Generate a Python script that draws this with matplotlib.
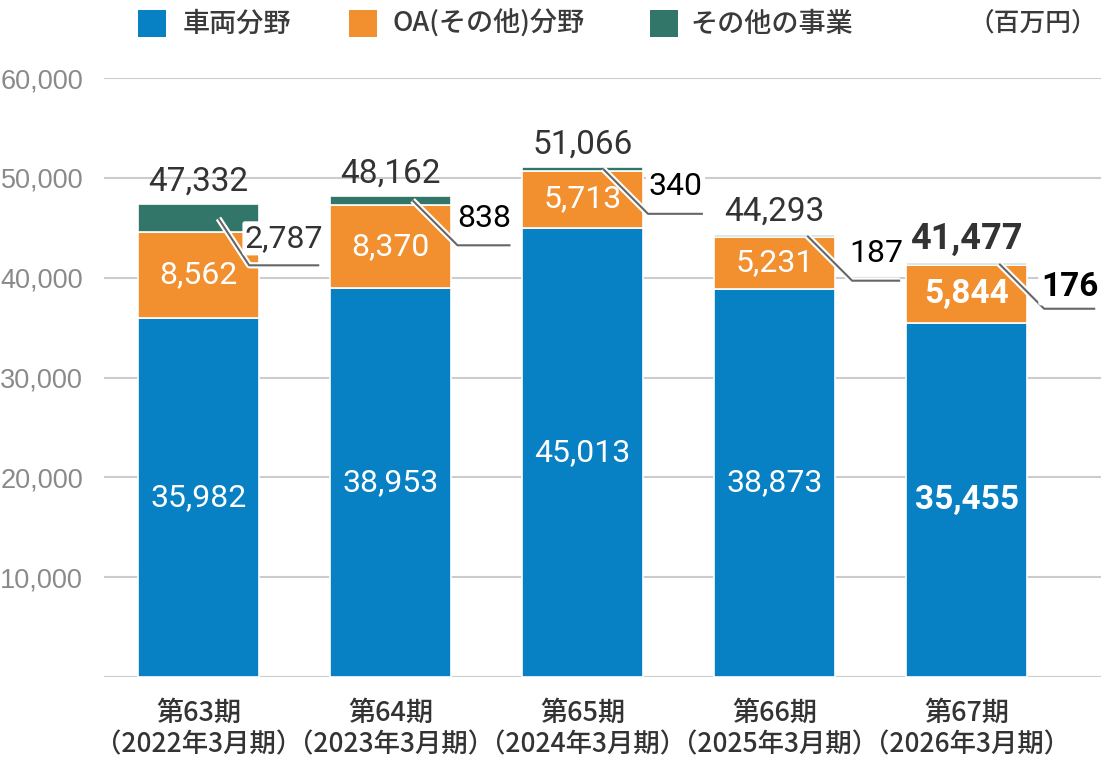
import matplotlib
matplotlib.use('Agg')
import matplotlib.pyplot as plt
from matplotlib.patches import Rectangle
import matplotlib.patheffects as pe
import matplotlib.transforms as mtransforms

plt.rcParams['font.family'] = ['Noto Sans CJK JP', 'DejaVu Sans']

# ---------------- data ----------------
periods = ['第63期', '第64期', '第65期', '第66期', '第67期']
fiscal_years = ['（2022年3月期）', '（2023年3月期）', '（2024年3月期）',
                '（2025年3月期）', '（2026年3月期）']
series_names = ['車両分野', 'OA(その他)分野', 'その他の事業']
vehicle = [35982, 38953, 45013, 38873, 35455]
oa = [8562, 8370, 5713, 5231, 5844]
other = [2787, 838, 340, 187, 176]
totals = [47332, 48162, 51066, 44293, 41477]
y_ticks = [0, 10000, 20000, 30000, 40000, 50000, 60000]
unit_label = '（百万円）'

# ---------------- styles / layout ----------------
colors = ['#0780C4', '#F28F2E', '#32766A']
emphasis = [False, False, False, False, True]
# leader line geometry (x offsets in bar units, y drop in value units)
lead_start = [0.104, 0.115, 0.107, 0.17, 0.17]
lead_dx = [0.16, 0.234, 0.234, 0.234, 0.234]
lead_len = [0.365, 0.276, 0.286, 0.25, 0.266]
lead_drop = [4700, 4500, 4500, 4500, 4500]
lead_text_up = [2700, 2700, 2700, 2700, 2200]
lead_text_color = ['#333333', '#000000', '#000000', '#000000', '#000000']

W, H = 1101, 760
fig = plt.figure(figsize=(W / 100, H / 100), dpi=100)
ax = fig.add_axes([104 / W, 83 / H, 997 / W, 599 / H])

x = list(range(len(periods)))
bw = 0.63
bottoms2 = [v + o for v, o in zip(vehicle, oa)]
ax.bar(x, vehicle, width=bw, color=colors[0], edgecolor='white', linewidth=1.2, zorder=3)
ax.bar(x, oa, width=bw, bottom=vehicle, color=colors[1], edgecolor='white', linewidth=1.2, zorder=3)
ax.bar(x, other, width=bw, bottom=bottoms2, color=colors[2], edgecolor='white', linewidth=1.2, zorder=3)

ax.set_xlim(-0.492, 4.70)
ax.set_ylim(0, 60000)
ax.set_yticks(y_ticks)
ax.set_yticklabels(['' if t == 0 else f'{t:,}' for t in y_ticks],
                   fontfamily='Liberation Sans', fontsize=19.5, color='#8a8a8a')
ax.tick_params(axis='y', length=0, pad=15)
ax.set_xticks([])
ax.yaxis.grid(True, color='#cccccc', linewidth=1.5, zorder=0)
ax.set_axisbelow(True)
for s in ax.spines.values():
    s.set_visible(False)

num_font = 'Roboto'
for i in x:
    fw = 'bold' if emphasis[i] else 'normal'
    fs = 24 if emphasis[i] else 23
    # inside labels
    ax.text(i, vehicle[i] / 2, f'{vehicle[i]:,}', ha='center', va='center',
            color='white', fontsize=fs, fontfamily=num_font, fontweight=fw, zorder=5)
    ax.text(i, vehicle[i] + oa[i] / 2, f'{oa[i]:,}', ha='center', va='center',
            color='white', fontsize=fs, fontfamily=num_font, fontweight=fw, zorder=5)
    # total
    ax.annotate(f'{totals[i]:,}', (i, bottoms2[i] + other[i]), xytext=(0, 10),
                textcoords='offset points', ha='center', va='baseline',
                color='#333333', fontsize=(26 if emphasis[i] else 24),
                fontfamily=num_font, fontweight=fw, zorder=6)
    # leader line for "other"
    sx = i + lead_start[i]
    sy = bottoms2[i] + other[i] / 2
    cx = sx + lead_dx[i]
    cy = sy - lead_drop[i]
    ex = cx + lead_len[i]
    ax.plot([sx, cx, ex], [sy, cy, cy], color='#666666', linewidth=1.5, zorder=7,
            solid_capstyle='butt',
            path_effects=[pe.Stroke(linewidth=4.5, foreground='white'), pe.Normal()])
    ax.text((cx + ex) / 2, cy + lead_text_up[i], f'{other[i]:,}', ha='center', va='center',
            color=lead_text_color[i], fontsize=(24 if emphasis[i] else 23),
            fontfamily=num_font, fontweight=fw, zorder=8,
            bbox=dict(boxstyle='round,pad=0.08', facecolor='white', edgecolor='none'))

# x category labels
trans = mtransforms.blended_transform_factory(ax.transData, fig.transFigure)
for i in x:
    ax.text(i, 1 - 713 / H, periods[i], transform=trans, ha='center', va='center',
            fontsize=19.5, color='#333333', fontweight='medium')
    ax.text(i, 1 - 745 / H, fiscal_years[i], transform=trans, ha='center', va='center',
            fontsize=19, color='#333333', fontweight='medium')

# legend (manual)
sq_x = [138, 349, 650]
txt_x = [183, 392, 690]
for k in range(3):
    fig.patches.append(Rectangle((sq_x[k] / W, 1 - 37 / H), 28 / W, 27 / H,
                                 transform=fig.transFigure, facecolor=colors[k],
                                 edgecolor='none'))
    fig.text(txt_x[k] / W, 1 - 24 / H, series_names[k], ha='left', va='center',
             fontsize=19.5, color='#3a3a3a', fontweight='medium')
fig.text(1097 / W, 1 - 23 / H, unit_label, ha='right', va='center',
         fontsize=18.5, color='#3a3a3a', fontweight='medium')

fig.savefig('out.png', dpi=100)
